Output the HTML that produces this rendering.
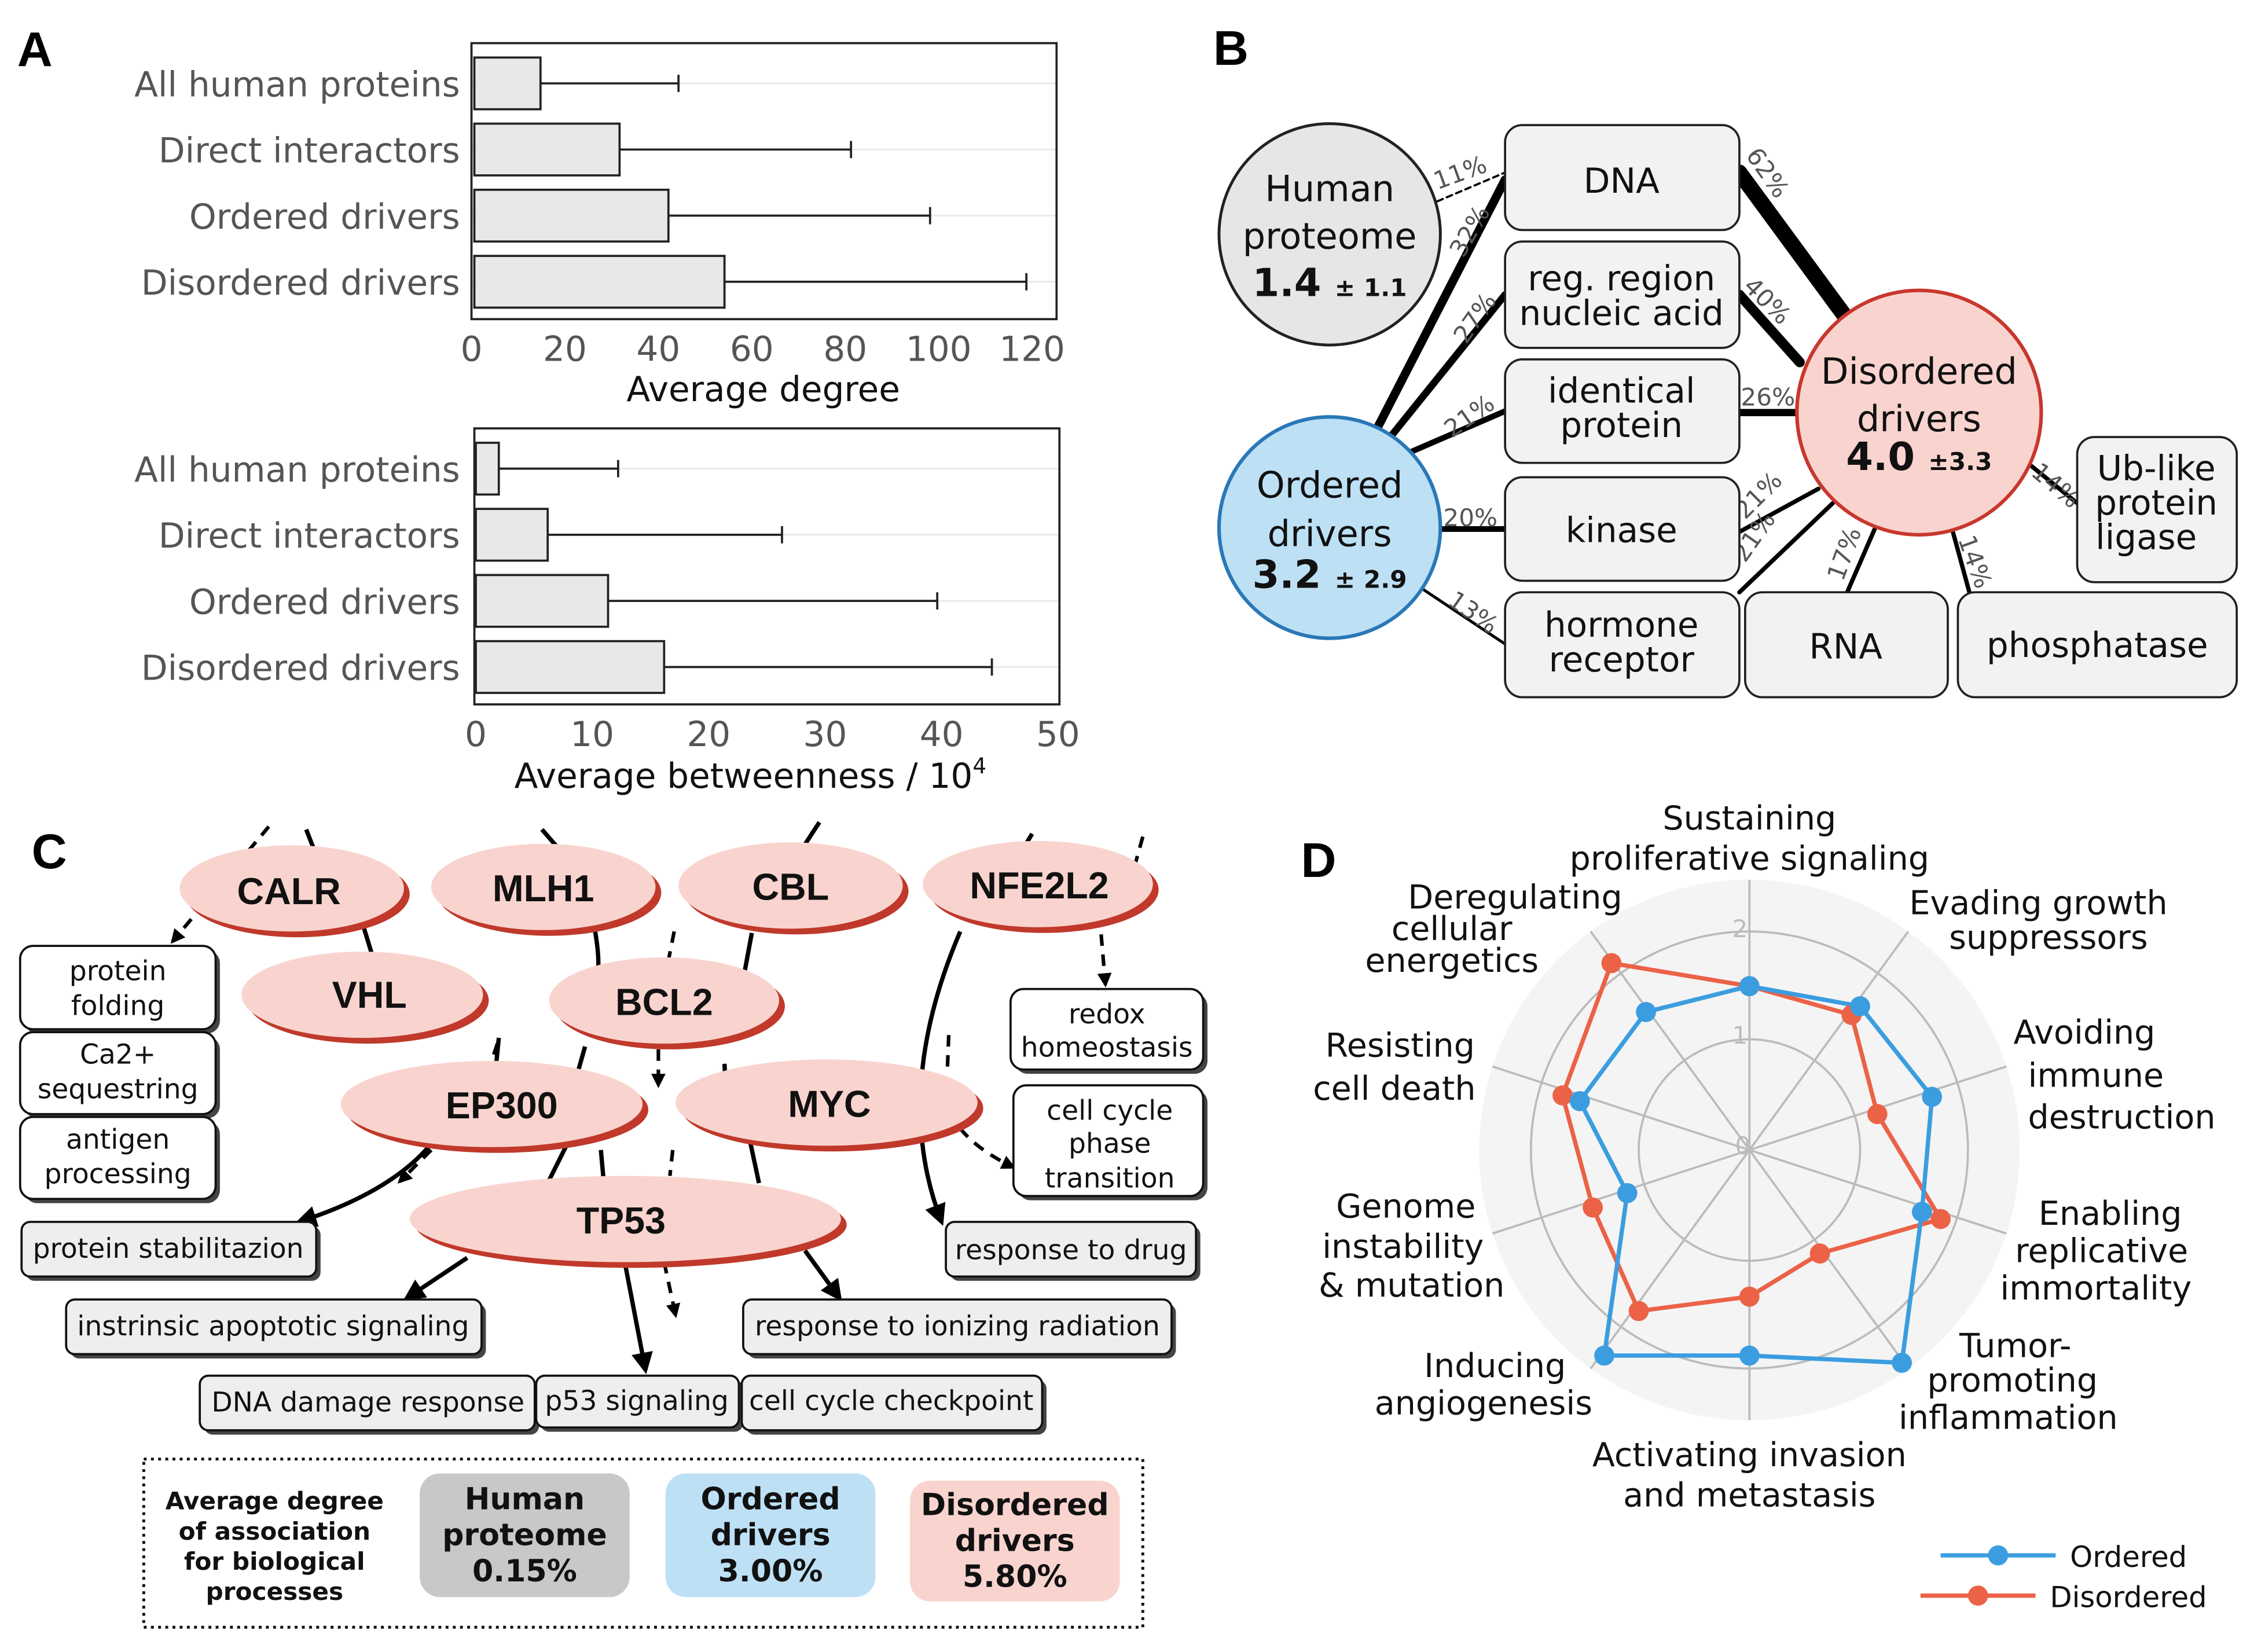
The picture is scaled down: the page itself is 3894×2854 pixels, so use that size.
<!DOCTYPE html>
<html><head><meta charset="utf-8"><style>
html,body{margin:0;padding:0;background:#fff;}
svg{display:block;}
text{font-family:"DejaVu Sans","Liberation Sans",sans-serif;}
</style></head><body>
<svg width="3894" height="2854" viewBox="0 0 1568 1149.2" xmlns="http://www.w3.org/2000/svg">
<defs>
<marker id="ah" viewBox="0 0 10 10" refX="8" refY="5" markerWidth="5" markerHeight="5" orient="auto"><path d="M0,0L10,5L0,10z" fill="#000"/></marker>
<marker id="ah2" viewBox="0 0 10 10" refX="8" refY="5" markerWidth="4" markerHeight="4" orient="auto"><path d="M0,0L10,5L0,10z" fill="#000"/></marker>
</defs>
<g font-family="Liberation Sans" font-weight="bold" font-size="34">
<text x="12" y="46" style="font-family:'Liberation Sans'">A</text>
<text x="844" y="45" style="font-family:'Liberation Sans'">B</text>
<text x="22" y="604" style="font-family:'Liberation Sans'">C</text>
<text x="905" y="610" style="font-family:'Liberation Sans'">D</text>
</g>

<g stroke="#e6e6e6" stroke-width="1">
<line x1="328" y1="58" x2="735" y2="58"/><line x1="328" y1="104" x2="735" y2="104"/><line x1="328" y1="150" x2="735" y2="150"/><line x1="328" y1="196" x2="735" y2="196"/>
<line x1="330" y1="326" x2="737" y2="326"/><line x1="330" y1="372" x2="737" y2="372"/><line x1="330" y1="418" x2="737" y2="418"/><line x1="330" y1="464" x2="737" y2="464"/>
</g>
<rect x="328" y="30" width="407" height="192" fill="none" stroke="#222" stroke-width="1.5"/>
<g fill="#e8e8e8" stroke="#222" stroke-width="1.5">
<rect x="330" y="40" width="46" height="36"/><rect x="330" y="86" width="101" height="36"/><rect x="330" y="132" width="135" height="36"/><rect x="330" y="178" width="174" height="36"/>
</g>
<g stroke="#222" stroke-width="1.5">
<line x1="376" y1="58" x2="472" y2="58"/><line x1="472" y1="52" x2="472" y2="64"/>
<line x1="431" y1="104" x2="592" y2="104"/><line x1="592" y1="98" x2="592" y2="110"/>
<line x1="465" y1="150" x2="647" y2="150"/><line x1="647" y1="144" x2="647" y2="156"/>
<line x1="504" y1="196" x2="714" y2="196"/><line x1="714" y1="190" x2="714" y2="202"/>
</g>
<g font-size="24" fill="#555" text-anchor="end">
<text x="320" y="67">All human proteins</text><text x="320" y="113">Direct interactors</text><text x="320" y="159">Ordered drivers</text><text x="320" y="205">Disordered drivers</text>
</g>
<g font-size="24" fill="#555" text-anchor="middle">
<text x="328" y="251">0</text><text x="393" y="251">20</text><text x="458" y="251">40</text><text x="523" y="251">60</text><text x="588" y="251">80</text><text x="653" y="251">100</text><text x="718" y="251">120</text>
</g>
<text x="531" y="279" font-size="24" fill="#111" text-anchor="middle">Average degree</text>

<rect x="330" y="298" width="407" height="192" fill="none" stroke="#222" stroke-width="1.5"/>
<g fill="#e8e8e8" stroke="#222" stroke-width="1.5">
<rect x="331" y="308" width="16" height="36"/><rect x="331" y="354" width="50" height="36"/><rect x="331" y="400" width="92" height="36"/><rect x="331" y="446" width="131" height="36"/>
</g>
<g stroke="#222" stroke-width="1.5">
<line x1="347" y1="326" x2="430" y2="326"/><line x1="430" y1="320" x2="430" y2="332"/>
<line x1="381" y1="372" x2="544" y2="372"/><line x1="544" y1="366" x2="544" y2="378"/>
<line x1="423" y1="418" x2="652" y2="418"/><line x1="652" y1="412" x2="652" y2="424"/>
<line x1="462" y1="464" x2="690" y2="464"/><line x1="690" y1="458" x2="690" y2="470"/>
</g>
<g font-size="24" fill="#555" text-anchor="end">
<text x="320" y="335">All human proteins</text><text x="320" y="381">Direct interactors</text><text x="320" y="427">Ordered drivers</text><text x="320" y="473">Disordered drivers</text>
</g>
<g font-size="24" fill="#555" text-anchor="middle">
<text x="331" y="519">0</text><text x="412" y="519">10</text><text x="493" y="519">20</text><text x="574" y="519">30</text><text x="655" y="519">40</text><text x="736" y="519">50</text>
</g>
<text x="522" y="548" font-size="24" fill="#111" text-anchor="middle">Average betweenness / 10<tspan font-size="15" dy="-10">4</tspan></text>

<g stroke="#000" stroke-linecap="round">
<line x1="958" y1="298" x2="1047" y2="125" stroke-width="6"/>
<line x1="968" y1="303" x2="1047" y2="205" stroke-width="5"/>
<line x1="980" y1="315" x2="1047" y2="286" stroke-width="4"/>
<line x1="1002" y1="368" x2="1047" y2="368" stroke-width="4"/>
<line x1="990" y1="410" x2="1047" y2="448" stroke-width="2"/>
<line x1="1000" y1="140" x2="1047" y2="120" stroke-width="1.5" stroke-dasharray="4,3"/>
<line x1="1210" y1="120" x2="1285" y2="222" stroke-width="11"/>
<line x1="1210" y1="205" x2="1252" y2="252" stroke-width="7"/>
<line x1="1210" y1="287" x2="1252" y2="287" stroke-width="5"/>
<line x1="1210" y1="370" x2="1265" y2="340" stroke-width="3"/>
<line x1="1210" y1="412" x2="1275" y2="350" stroke-width="3"/>
<line x1="1285" y1="412" x2="1305" y2="366" stroke-width="3"/>
<line x1="1370" y1="412" x2="1358" y2="368" stroke-width="3"/>
<line x1="1445" y1="350" x2="1408" y2="320" stroke-width="3"/>
</g>
<g font-size="17" fill="#555">
<text transform="translate(1000,132) rotate(-20)">11%</text>
<text transform="translate(1018,180) rotate(-60)">32%</text>
<text transform="translate(1020,240) rotate(-55)">27%</text>
<text transform="translate(1010,305) rotate(-35)">21%</text>
<text x="1004" y="366">20%</text>
<text transform="translate(1006,420) rotate(35)">13%</text>
<text transform="translate(1214,108) rotate(55)">62%</text>
<text transform="translate(1212,200) rotate(45)">40%</text>
<text x="1211" y="282">26%</text>
<text transform="translate(1214,362) rotate(-45)">21%</text>
<text transform="translate(1214,392) rotate(-55)">21%</text>
<text transform="translate(1282,405) rotate(-70)">17%</text>
<text transform="translate(1362,375) rotate(70)">14%</text>
<text transform="translate(1412,330) rotate(40)">14%</text>
</g>
<circle cx="925" cy="163" r="77" fill="#e6e6e6" stroke="#222" stroke-width="2"/>
<circle cx="925" cy="367" r="77" fill="#bde0f5" stroke="#2a78b8" stroke-width="2.5"/>
<circle cx="1335" cy="287" r="85" fill="#f9d4cf" stroke="#c8372d" stroke-width="2.5"/>
<g font-size="25" fill="#111" text-anchor="middle">
<text x="925" y="140">Human</text><text x="925" y="173">proteome</text>
<text x="925" y="346">Ordered</text><text x="925" y="380">drivers</text>
<text x="1335" y="267">Disordered</text><text x="1335" y="300">drivers</text>
</g>
<g fill="#111" text-anchor="middle" font-weight="bold">
<text x="925" y="206" font-size="27">1.4 <tspan font-size="17">± 1.1</tspan></text>
<text x="925" y="409" font-size="27">3.2 <tspan font-size="17">± 2.9</tspan></text>
<text x="1335" y="327" font-size="27">4.0 <tspan font-size="17">±3.3</tspan></text>
</g>
<g fill="#f2f2f2" stroke="#222" stroke-width="1.5">
<rect x="1047" y="87" width="163" height="73" rx="12"/>
<rect x="1047" y="168" width="163" height="74" rx="12"/>
<rect x="1047" y="250" width="163" height="72" rx="12"/>
<rect x="1047" y="332" width="163" height="72" rx="12"/>
<rect x="1047" y="412" width="163" height="73" rx="12"/>
<rect x="1214" y="412" width="141" height="73" rx="12"/>
<rect x="1362" y="412" width="194" height="73" rx="12"/>
<rect x="1445" y="304" width="111" height="101" rx="12"/>
</g>
<g font-size="24" fill="#111" text-anchor="middle">
<text x="1128" y="134">DNA</text>
<text x="1128" y="202">reg. region</text><text x="1128" y="226">nucleic acid</text>
<text x="1128" y="280">identical</text><text x="1128" y="304">protein</text>
<text x="1128" y="377">kinase</text>
<text x="1128" y="443">hormone</text><text x="1128" y="467">receptor</text>
<text x="1284" y="458">RNA</text>
<text x="1459" y="457">phosphatase</text>
<text x="1500" y="334">Ub-like</text><text x="1500" y="358">protein</text><text x="1493" y="382">ligase</text>
</g>

<g stroke="#000" stroke-width="3" fill="none">
<path d="M213,577 L222,600"/>
<path d="M377,577 L390,592"/>
<path d="M570,572 L555,595"/>
<path d="M718,580 L712,590"/>
<path d="M253,645 L260,668"/>
<path d="M414,648 Q417,665 416,676"/>
<path d="M523,649 L518,676"/>
<path d="M347,722 L345,742"/>
<path d="M407,728 L398,760"/>
<path d="M504,740 L505,760"/>
<path d="M298,798 Q270,830 208,850" marker-end="url(#ah)"/>
<path d="M395,795 L380,825"/>
<path d="M418,800 L420,822"/>
<path d="M522,795 L528,823"/>
<path d="M668,648 Q620,760 655,850" marker-end="url(#ah)"/>
<path d="M325,875 L283,903" marker-end="url(#ah)"/>
<path d="M435,880 L449,953" marker-end="url(#ah)"/>
<path d="M560,870 L584,903" marker-end="url(#ah)"/>
</g>
<g stroke="#000" stroke-width="2.5" fill="none" stroke-dasharray="8,6">
<path d="M187,575 L120,655" marker-end="url(#ah2)"/>
<path d="M795,582 L790,600"/>
<path d="M766,650 L769,685" marker-end="url(#ah2)"/>
<path d="M469,648 L465,668"/>
<path d="M346,726 L340,744"/>
<path d="M458,730 L458,755" marker-end="url(#ah2)"/>
<path d="M660,720 L659,745"/>
<path d="M668,785 Q680,800 705,812" marker-end="url(#ah2)"/>
<path d="M300,800 L278,822" marker-end="url(#ah2)"/>
<path d="M468,800 L466,818"/>
<path d="M462,878 L470,915" marker-end="url(#ah2)"/>
</g>
<g fill="#c0392b">
<ellipse cx="207" cy="622" rx="78" ry="30"/><ellipse cx="382" cy="621" rx="78" ry="30"/><ellipse cx="554" cy="620" rx="78" ry="30"/><ellipse cx="726" cy="619" rx="80" ry="30"/>
<ellipse cx="256" cy="696" rx="84" ry="30"/><ellipse cx="466" cy="700" rx="80" ry="30"/><ellipse cx="346" cy="772" rx="105" ry="30"/><ellipse cx="579" cy="771" rx="105" ry="30"/><ellipse cx="439" cy="852" rx="150" ry="30"/>
</g>
<g fill="#f9d4cf">
<ellipse cx="203" cy="618" rx="78" ry="30"/><ellipse cx="378" cy="617" rx="78" ry="30"/><ellipse cx="550" cy="616" rx="78" ry="30"/><ellipse cx="722" cy="615" rx="80" ry="30"/>
<ellipse cx="252" cy="692" rx="84" ry="30"/><ellipse cx="462" cy="696" rx="80" ry="30"/><ellipse cx="342" cy="768" rx="105" ry="30"/><ellipse cx="575" cy="767" rx="105" ry="30"/><ellipse cx="435" cy="848" rx="150" ry="30"/>
</g>
<g font-size="26" font-weight="bold" fill="#111" text-anchor="middle">
<text x="201" y="629" style="font-family:'Liberation Sans'">CALR</text>
<text x="378" y="627" style="font-family:'Liberation Sans'">MLH1</text>
<text x="550" y="626" style="font-family:'Liberation Sans'">CBL</text>
<text x="723" y="625" style="font-family:'Liberation Sans'">NFE2L2</text>
<text x="257" y="701" style="font-family:'Liberation Sans'">VHL</text>
<text x="462" y="706" style="font-family:'Liberation Sans'">BCL2</text>
<text x="349" y="778" style="font-family:'Liberation Sans'">EP300</text>
<text x="577" y="777" style="font-family:'Liberation Sans'">MYC</text>
<text x="432" y="858" style="font-family:'Liberation Sans'">TP53</text>
</g>
<g fill="#444">
<rect x="17" y="661" width="136" height="58" rx="9"/><rect x="17" y="721" width="136" height="57" rx="9"/><rect x="17" y="780" width="136" height="57" rx="9"/>
<rect x="18" y="853" width="205" height="38" rx="6"/><rect x="706" y="691" width="134" height="56" rx="9"/><rect x="708" y="758" width="132" height="77" rx="9"/>
<rect x="661" y="853" width="174" height="38" rx="6"/><rect x="49" y="907" width="289" height="38" rx="6"/><rect x="520" y="907" width="298" height="38" rx="6"/>
<rect x="142" y="960" width="233" height="38" rx="6"/><rect x="376" y="960" width="141" height="36" rx="6"/><rect x="519" y="960" width="209" height="38" rx="6"/>
</g>
<g fill="#fff" stroke="#111" stroke-width="1.5">
<rect x="14" y="658" width="136" height="58" rx="9"/><rect x="14" y="718" width="136" height="57" rx="9"/><rect x="14" y="777" width="136" height="57" rx="9"/>
<rect x="703" y="688" width="134" height="56" rx="9"/><rect x="705" y="755" width="132" height="77" rx="9"/>
</g>
<g fill="#eeeeee" stroke="#111" stroke-width="1.5">
<rect x="15" y="850" width="205" height="38" rx="6"/><rect x="658" y="850" width="174" height="38" rx="6"/><rect x="46" y="904" width="289" height="38" rx="6"/><rect x="517" y="904" width="298" height="38" rx="6"/>
<rect x="139" y="957" width="233" height="38" rx="6"/><rect x="373" y="957" width="141" height="36" rx="6"/><rect x="516" y="957" width="209" height="38" rx="6"/>
</g>
<g font-size="19" fill="#111" text-anchor="middle">
<text x="82" y="682">protein</text><text x="82" y="706">folding</text>
<text x="82" y="740">Ca2+</text><text x="82" y="764">sequestring</text>
<text x="82" y="799">antigen</text><text x="82" y="823">processing</text>
<text x="770" y="712">redox</text><text x="770" y="735">homeostasis</text>
<text x="772" y="779">cell cycle</text><text x="772" y="802">phase</text><text x="772" y="826">transition</text>
<text x="117" y="875">protein stabilitazion</text>
<text x="745" y="876">response to drug</text>
<text x="190" y="929">instrinsic apoptotic signaling</text>
<text x="666" y="929">response to ionizing radiation</text>
<text x="256" y="982">DNA damage response</text>
<text x="443" y="981">p53 signaling</text>
<text x="620" y="981">cell cycle checkpoint</text>
</g>
<rect x="100" y="1015" width="695" height="117" fill="none" stroke="#111" stroke-width="2" stroke-dasharray="2,3"/>
<g font-size="17" font-weight="bold" fill="#111" text-anchor="middle">
<text x="191" y="1050">Average degree</text><text x="191" y="1071">of association</text><text x="191" y="1092">for biological</text><text x="191" y="1113">processes</text>
</g>
<rect x="292" y="1025" width="146" height="86" rx="14" fill="#c8c8c8"/>
<rect x="463" y="1025" width="146" height="86" rx="14" fill="#bde0f5"/>
<rect x="633" y="1030" width="146" height="84" rx="14" fill="#f9d4cf"/>
<g font-size="21" font-weight="bold" fill="#111" text-anchor="middle">
<text x="365" y="1050">Human</text><text x="365" y="1075">proteome</text><text x="365" y="1100">0.15%</text>
<text x="536" y="1050">Ordered</text><text x="536" y="1075">drivers</text><text x="536" y="1100">3.00%</text>
<text x="706" y="1054">Disordered</text><text x="706" y="1079">drivers</text><text x="706" y="1104">5.80%</text>
</g>

<circle cx="1217" cy="800" r="188" fill="#f4f4f4"/>
<g fill="none" stroke="#bbb" stroke-width="1.5">
<circle cx="1217" cy="800" r="77"/><circle cx="1217" cy="800" r="152"/>
</g>
<g stroke="#bbb" stroke-width="1.5">
<line x1="1217" y1="800" x2="1217" y2="612"/>
<line x1="1217" y1="800" x2="1327.5" y2="647.9"/>
<line x1="1217" y1="800" x2="1395.8" y2="741.9"/>
<line x1="1217" y1="800" x2="1395.8" y2="858.1"/>
<line x1="1217" y1="800" x2="1327.5" y2="952.1"/>
<line x1="1217" y1="800" x2="1217" y2="988"/>
<line x1="1217" y1="800" x2="1106.5" y2="952.1"/>
<line x1="1217" y1="800" x2="1038.2" y2="858.1"/>
<line x1="1217" y1="800" x2="1038.2" y2="741.9"/>
<line x1="1217" y1="800" x2="1106.5" y2="647.9"/>
</g>
<g font-size="17" fill="#bbb"><text x="1205" y="652">2</text><text x="1205" y="726">1</text><text x="1207" y="803">0</text></g>
<polygon points="1217,686 1288,706 1306,775 1350,848 1266,872 1217,902 1140,912 1108,840 1087,762 1121,670" fill="none" stroke="#eb6247" stroke-width="3"/>
<polygon points="1217,686 1294,700 1344,763 1337,843 1323,948 1217,943 1116,943 1132,830 1099,766 1145,704" fill="none" stroke="#3b9de0" stroke-width="3"/>
<g fill="#eb6247">
<circle cx="1217" cy="686" r="7"/><circle cx="1288" cy="706" r="7"/><circle cx="1306" cy="775" r="7"/><circle cx="1350" cy="848" r="7"/><circle cx="1266" cy="872" r="7"/><circle cx="1217" cy="902" r="7"/><circle cx="1140" cy="912" r="7"/><circle cx="1108" cy="840" r="7"/><circle cx="1087" cy="762" r="7"/><circle cx="1121" cy="670" r="7"/>
</g>
<g fill="#3b9de0">
<circle cx="1217" cy="686" r="7"/><circle cx="1294" cy="700" r="7"/><circle cx="1344" cy="763" r="7"/><circle cx="1337" cy="843" r="7"/><circle cx="1323" cy="948" r="7"/><circle cx="1217" cy="943" r="7"/><circle cx="1116" cy="943" r="7"/><circle cx="1132" cy="830" r="7"/><circle cx="1099" cy="766" r="7"/><circle cx="1145" cy="704" r="7"/>
</g>
<g font-size="23" fill="#111" text-anchor="middle">
<text x="1217" y="577">Sustaining</text><text x="1217" y="605">proliferative signaling</text>
<text x="1418" y="636">Evading growth</text><text x="1425" y="660">suppressors</text>
<text x="1450" y="726">Avoiding</text><text x="1458" y="756">immune</text><text x="1476" y="785">destruction</text>
<text x="1468" y="852">Enabling</text><text x="1462" y="878">replicative</text><text x="1458" y="904">immortality</text>
<text x="1402" y="944">Tumor-</text><text x="1400" y="968">promoting</text><text x="1397" y="994">inflammation</text>
<text x="1217" y="1020">Activating invasion</text><text x="1217" y="1048">and metastasis</text>
<text x="1040" y="958">Inducing</text><text x="1032" y="984">angiogenesis</text>
<text x="978" y="847">Genome</text><text x="976" y="875">instability</text><text x="982" y="902">&amp; mutation</text>
<text x="974" y="735">Resisting</text><text x="970" y="765">cell death</text>
<text x="1054" y="632">Deregulating</text><text x="1010" y="654">cellular</text><text x="1010" y="676">energetics</text>
</g>
<g>
<line x1="1350" y1="1082" x2="1430" y2="1082" stroke="#3b9de0" stroke-width="3"/><circle cx="1390" cy="1082" r="7" fill="#3b9de0"/>
<line x1="1336" y1="1110" x2="1416" y2="1110" stroke="#eb6247" stroke-width="3"/><circle cx="1376" cy="1110" r="7" fill="#eb6247"/>
<text x="1440" y="1090" font-size="20" fill="#111">Ordered</text>
<text x="1426" y="1118" font-size="20" fill="#111">Disordered</text>
</g>
</svg>
</body></html>
